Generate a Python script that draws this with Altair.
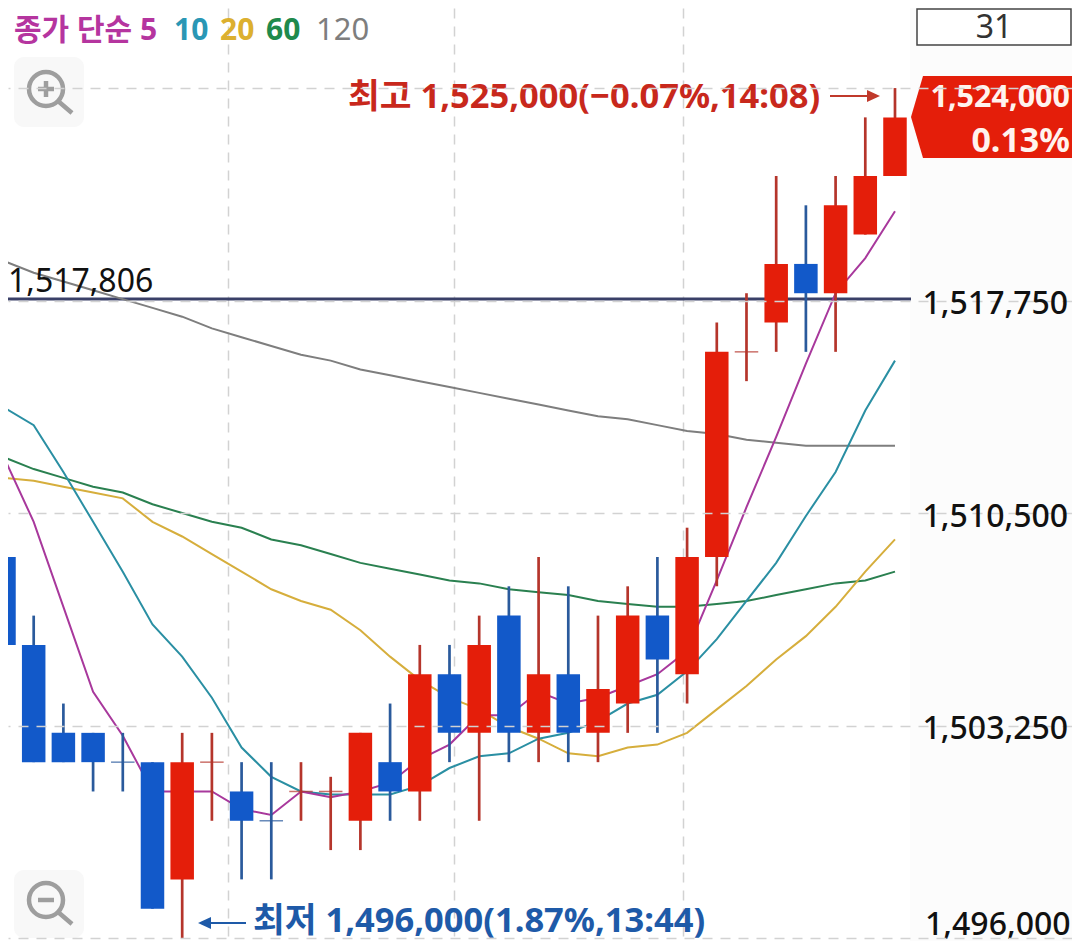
import altair as alt
import pandas as pd

K = 1000
opens  = [1509,1506,1503,1503,1502,1502,1498,1502,1501,1500,1501,1501,1500,1502,1501,1505,1503,1507,1503,1505,1503,1504,1507,1505,1509,1516,1517,1519,1518,1520,1522]
closes = [1506,1502,1502,1502,1502,1497,1502,1502,1500,1500,1501,1501,1503,1501,1505,1503,1506,1503,1505,1503,1504.5,1507,1505.5,1509,1516,1516,1519,1518,1521,1522,1524]
highs  = [1510,1507,1504,1503,1503,1502,1503,1503,1502,1502,1502,1501.5,1503,1504,1506,1506,1507,1508,1509,1508,1507,1508,1509,1510,1517,1518,1522,1521,1522,1524,1525]
lows   = [1505,1502,1502,1501,1501,1497,1496,1500,1498,1498,1500,1499,1499,1500,1500,1502,1500,1502,1502,1502,1502,1503,1503,1504,1508,1515,1516,1516,1516,1520,1522]
rising = [0,0,0,0,0,0,1,1,0,0,1,1,1,0,1,0,1,0,1,0,1,1,0,1,1,1,1,0,1,1,1]

ma5 = [1512400,1510200,1507300,1504400,1502900,1501000,1501000,1501000,1500400,1500200,1501000,1500800,1501000,1501300,1502100,1502600,1503600,1503600,1504400,1504000,1504200,1504600,1505000,1505800,1508200,1510700,1513100,1515600,1518000,1519200,1520800]
ma10 = [1514100,1513500,1511900,1510200,1508500,1506700,1505600,1504200,1502500,1501500,1501000,1500900,1500900,1500900,1501200,1501800,1502200,1502300,1502800,1503000,1503400,1504000,1504300,1505100,1506200,1507500,1508800,1510400,1511900,1514000,1515700]
ma20 = [1511700,1511600,1511400,1511200,1511000,1510200,1509700,1509100,1508500,1507900,1507500,1507200,1506500,1505600,1504800,1504200,1503800,1503200,1502800,1502300,1502200,1502500,1502600,1503000,1503800,1504600,1505500,1506300,1507300,1508500,1509600]
ma60 = [1512400,1512000,1511700,1511400,1511200,1510800,1510500,1510200,1510000,1509600,1509400,1509100,1508800,1508600,1508400,1508200,1508100,1507900,1507800,1507700,1507500,1507400,1507300,1507300,1507400,1507500,1507700,1507900,1508100,1508200,1508500]
ma120 = [1519100,1518700,1518400,1518100,1517800,1517500,1517200,1516800,1516500,1516200,1515900,1515700,1515400,1515200,1515000,1514800,1514600,1514400,1514200,1514000,1513800,1513700,1513500,1513300,1513200,1513000,1512900,1512800,1512800,1512800,1512800]

y_ticks = [1496000, 1503250, 1510500, 1517750, 1525000]
x_grid = [7.54, 15.15, 22.86]
average_price = 1517806

W, H = 1064, 933
RED, BLUE = "#e41e0a", "#1259c9"
WICK_RED, WICK_BLUE = "#b5352b", "#2a5a9c"
FONT = '"Noto Sans", "Noto Sans CJK KR", sans-serif'

idx = list(range(len(opens)))
df = pd.DataFrame({
    "i": idx,
    "open": [v * K for v in opens], "close": [v * K for v in closes],
    "high": [v * K for v in highs], "low": [v * K for v in lows],
    "rising": rising,
})

xs = alt.Scale(domain=[0.135, 35.96], nice=False, zero=False, padding=0)
ys = alt.Scale(domain=[1495898, 1527732], nice=False, zero=False)
XA = alt.Axis(values=x_grid, labels=False, ticks=False, domain=False, title=None, grid=True,
              gridColor="#d2d2d2", gridDash=[10, 8], gridWidth=1.5)
YA = alt.Axis(orient="right", values=y_ticks, offset=-150, labelPadding=0, labelOffset=3, ticks=False, domain=False,
              title=None, grid=True, gridColor="#d2d2d2", gridDash=[10, 8], gridWidth=1.5,
              labelFont=FONT, labelFontSize=32, labelFontWeight=500, labelColor="#111111", labelAlign="left",
              labelOverlap=False, labelBound=False, labelFlush=False, zindex=2, labelLimit=300,
              labelExpr="datum.value == 1525000 || datum.value == 1496000 ? '' : format(datum.value, ',')")
xq = alt.X("i:Q", scale=xs, axis=XA)


def yq(field):
    return alt.Y(field, scale=ys, axis=YA)


one = alt.Data(values=[{"a": 1}])


def px(x):
    return alt.value(x - 8)


def py(y):
    return alt.value(y - 8)


def text(s, x, y, color, size, weight="normal", align="left"):
    return alt.Chart(one).mark_text(
        text=s, font=FONT, fontSize=size, fontWeight=weight, color=color,
        align=align, baseline="middle").encode(x=px(x), y=py(y))


def shape(path, x, y, **kw):
    return alt.Chart(one).mark_point(shape=path, size=4, opacity=1, **kw).encode(x=px(x), y=py(y))


def seg(x1, x2, y, color):
    return alt.Chart(one).mark_rule(color=color, strokeWidth=2).encode(x=px(x1), x2=px(x2), y=py(y))


lines = []
for vals, col in [(ma120, "#7e7e7e"), (ma60, "#2a8050"), (ma20, "#d6ae3c"), (ma10, "#2a8fa3"), (ma5, "#a8389c")]:
    d = pd.DataFrame({"i": idx, "ma": vals})
    lines.append(alt.Chart(d).mark_line(color=col, strokeWidth=2).encode(x=xq, y=yq("ma:Q")))

panel = alt.Chart(one).mark_rect(color="#fcfcfc").encode(x=px(910), x2=px(1080), y=py(0), y2=py(949))
avg_line = alt.Chart(one).mark_rule(color="#3a4068", strokeWidth=3).encode(
    x=px(0), x2=px(911), y=alt.Y(datum=average_price, scale=ys, axis=YA))

candles = []
for flag, body_col, wick_col in [(0, BLUE, WICK_BLUE), (1, RED, WICK_RED)]:
    part = df[df.rising == flag]
    candles.append(alt.Chart(part).mark_rule(strokeWidth=2.7, color=wick_col).encode(
        x=xq, y=yq("high:Q"), y2="low:Q"))
    candles.append(alt.Chart(part[part.open != part.close]).mark_bar(size=23.5, color=body_col).encode(
        x=xq, y=yq("open:Q"), y2="close:Q"))
    candles.append(alt.Chart(part[part.open == part.close]).mark_tick(
        orient="horizontal", size=23.5, thickness=1.5, color=wick_col).encode(x=xq, y=yq("close:Q")))

bottom_label = alt.Chart(one).mark_text(
    text="1,496,000", font=FONT, fontSize=32, fontWeight=500, color="#111111",
    align="left", baseline="middle", dy=-13).encode(
    x=px(925), y=alt.Y(datum=y_ticks[0], scale=ys, axis=YA))

MAG = "M17,0A17,17,0,1,1,-17,0A17,17,0,1,1,17,0M12,12L26,24M-8,0L8,0"
decor = [
    alt.Chart(one).mark_rect(color="#f8f8f8", cornerRadius=10).encode(x=px(14), x2=px(84), y=py(57), y2=py(127)),
    alt.Chart(one).mark_rect(color="#f8f8f8", cornerRadius=10).encode(x=px(14), x2=px(84), y=py(870), y2=py(938)),
    shape(MAG + "M0,-8L0,8", 46, 89, filled=False, color="#9e9e9e", strokeWidth=4.5),
    shape(MAG, 46, 900, filled=False, color="#9e9e9e", strokeWidth=4.5),
    text("종가 단순 5", 14, 31, "#b5359f", 30, "bold"),
    text("10", 174, 31, "#2a97b5", 30, "bold"),
    text("20", 220, 31, "#dcb02f", 30, "bold"),
    text("60", 266, 31, "#1f8a4c", 30, "bold"),
    text("120", 316, 31, "#7e7e7e", 31),
    alt.Chart(one).mark_rect(fill="#ffffff", stroke="#444444", strokeWidth=1.5).encode(
        x=px(917), x2=px(1071), y=py(9), y2=py(45)),
    text("31", 994, 28, "#333333", 32, "normal", "center"),
    text("1,517,806", 8, 282, "#111111", 32),
    text("최고 1,525,000(−0.07%,14:08)", 348, 98, "#c8281c", 34.5, "bold"),
    seg(830, 872, 96, "#c0392b"),
    shape("M-8,-6L5,0L-8,6Z", 875, 96, filled=True, color="#c0392b", strokeWidth=0),
    text("최저 1,496,000(1.87%,13:44)", 253, 922, "#1e5aa8", 34.5, "bold"),
    seg(205, 246, 923, "#1e5aa8"),
    shape("M8,-6L-5,0L8,6Z", 203, 923, filled=True, color="#1e5aa8", strokeWidth=0),
    shape("M-67,-41L89,-41L89,41L-67,41L-79,0Z", 990, 117, filled=True, color=RED, strokeWidth=0),
    text("1,524,000", 1070, 98, "#fff3ee", 30.5, "bold", "right"),
    text("0.13%", 1070, 142, "#fff3ee", 34, "bold", "right"),
]

chart = alt.layer(panel, avg_line, *lines, *candles, bottom_label, *decor).properties(
    width=W, height=H, padding=0, autosize=alt.AutoSizeParams(type="none"),
    background="#ffffff",
).configure_view(stroke=None)

chart.save("out.html", embed_options={"renderer": "svg", "actions": False})
